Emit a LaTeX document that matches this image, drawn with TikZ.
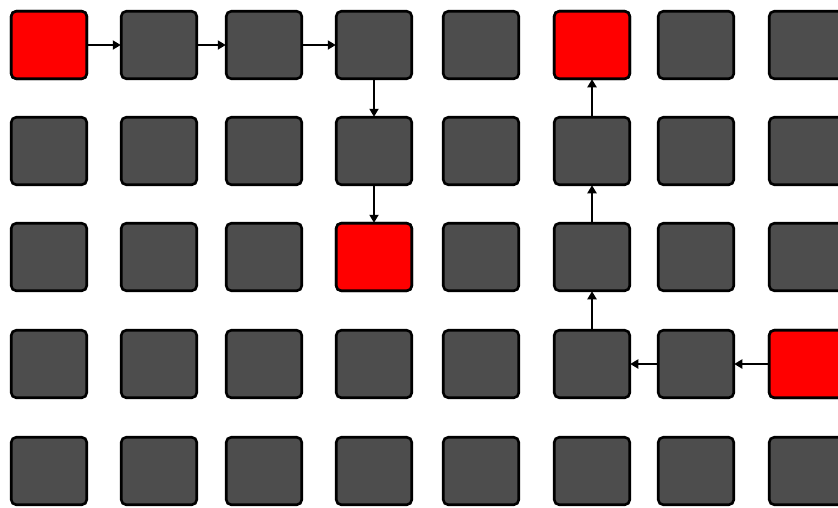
\documentclass[tikz,border=0pt]{standalone}
\usetikzlibrary{arrows.meta}
\definecolor{cellgray}{HTML}{4D4D4D}
\definecolor{cellred}{HTML}{FF0000}
\tikzset{
  cell/.style={draw=black, line width=2.6pt, rounded corners=5pt, fill=cellgray,
    minimum width=75.5pt, minimum height=67.5pt, inner sep=0pt, outer sep=0pt},
  hot/.style={cell, fill=cellred},
  link/.style={line width=2.4pt, -{Triangle[length=8pt,width=9pt]}, shorten >=0.5pt}
}
\begin{document}
\begin{tikzpicture}[x=1pt,y=1pt]
\useasboundingbox (0,0) rectangle (838,-507);
\foreach \r/\cy in {0/45,1/151,2/257,3/364,4/471}{
  \foreach \c/\cx in {0/49,1/159,2/264,3/374,4/481,5/592,6/696,7/807}{
    \node[cell] (n\r\c) at (\cx,-\cy) {};
  }
}
% red cells
\node[hot] at (n00) {};
\node[hot] at (n05) {};
\node[hot] at (n23) {};
\node[hot] at (n37) {};
% path 1
\draw[link] (n00.east) -- (n01.west);
\draw[link] (n01.east) -- (n02.west);
\draw[link] (n02.east) -- (n03.west);
\draw[link] (n03.south) -- (n13.north);
\draw[link] (n13.south) -- (n23.north);
% path 2
\draw[link] (n37.west) -- (n36.east);
\draw[link] (n36.west) -- (n35.east);
\draw[link] (n35.north) -- (n25.south);
\draw[link] (n25.north) -- (n15.south);
\draw[link] (n15.north) -- (n05.south);
\end{tikzpicture}
\end{document}
